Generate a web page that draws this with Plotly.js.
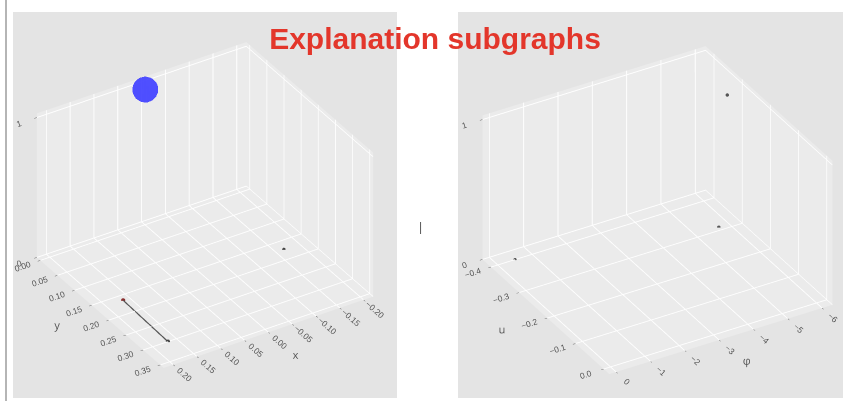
<!DOCTYPE html>
<html>
<head>
<meta charset="utf-8">
<script src="https://cdn.plot.ly/plotly-3.0.1.min.js"></script>
<style>
html,body{margin:0;padding:0;background:#fff;}
#chart{width:843px;height:401px;}
#rule{position:absolute;left:5px;top:0;width:2px;height:401px;background:#b5b5b5;z-index:5;}
</style>
</head>
<body>
<div id="rule"></div>
<div id="chart"></div>
<script>
// ---- data ----
const titleText = "Explanation subgraphs";

// left subgraph
const leftNodeX = [0.0];
const leftNodeY = [0.0];
const leftNodeZ = [0.97];
const leftEdgeX = [0.164, 0.168];
const leftEdgeY = [0.164, 0.30];
const leftEdgeZ = [0.0, 0.0];
const leftDotX = [-0.167];
const leftDotY = [0.173];
const leftDotZ = [0.0];
const leftXTicks = [-0.20, -0.15, -0.10, -0.05, 0.00, 0.05, 0.10, 0.15, 0.20];
const leftYTicks = [0.00, 0.05, 0.10, 0.15, 0.20, 0.25, 0.30, 0.35];
const leftZTicks = [0, 1];

// right subgraph
const rightDotX = [-0.5, -5.7, -5.7];
const rightDotY = [-0.40, -0.31, -0.28];
const rightDotZ = [0.0, 0.0, 1.0];
const rightXTicks = [-6, -5, -4, -3, -2, -1, 0];
const rightYTicks = [-0.4, -0.3, -0.2, -0.1, 0.0];
const rightZTicks = [0, 1];

const fmt2 = v => v.toFixed(2).replace('-', '\u2212');
const fmt1 = v => v.toFixed(1).replace('-', '\u2212');
const fmt0 = v => String(v).replace('-', '\u2212');

function ax(ticks, fmt, range, title) {
  return {
    range: range,
    tickvals: ticks,
    ticktext: ticks.map(fmt),
    tickfont: {family: 'Liberation Sans, Arial, sans-serif', size: 10, color: '#555'},
    title: {text: title, font: {size: 11, color: '#555'}},
    showbackground: true,
    backgroundcolor: '#ebebeb',
    gridcolor: '#ffffff',
    gridwidth: 2,
    zeroline: false,
    showline: false,
    showspikes: false,
    ticks: 'outside',
    ticklen: 3,
    tickcolor: '#666'
  };
}

const traces = [
  {type: 'scatter3d', mode: 'markers', x: leftNodeX, y: leftNodeY, z: leftNodeZ,
   marker: {size: 15, color: 'rgba(55,55,240,0.9)', line: {width: 0}}, scene: 'scene', hoverinfo: 'skip'},
  {type: 'scatter3d', mode: 'lines+markers', x: leftEdgeX, y: leftEdgeY, z: leftEdgeZ,
   line: {color: '#555', width: 2.5}, marker: {size: 2.5, color: ['#8a3030', '#444']},
   scene: 'scene', hoverinfo: 'skip'},
  {type: 'scatter3d', mode: 'markers', x: leftDotX, y: leftDotY, z: leftDotZ,
   marker: {size: 2, color: '#444'}, scene: 'scene', hoverinfo: 'skip'},
  {type: 'scatter3d', mode: 'markers', x: rightDotX, y: rightDotY, z: rightDotZ,
   marker: {size: 2, color: '#555'}, scene: 'scene2', hoverinfo: 'skip'}
];

function cam(cx, cy, cz) {
  return {eye: {x: 0.667, y: 1.067, z: 0.817}, center: {x: cx, y: cy, z: cz}, up: {x: 0, y: 0, z: 1},
          projection: {type: 'orthographic'}};
}

const layout = {
  width: 843, height: 401,
  margin: {l: 0, r: 0, t: 0, b: 0},
  paper_bgcolor: '#ffffff',
  showlegend: false,
  title: {text: titleText, x: 0.516, xanchor: 'center', y: 0.905, yanchor: 'middle',
          font: {family: 'Liberation Sans, Arial, sans-serif', size: 30, color: '#e3362b', weight: 'bold'}},
  scene: {
    domain: {x: [13/843, 397/843], y: [3/401, 389/401]},
    bgcolor: '#e4e4e4',
    xaxis: ax(leftXTicks, fmt2, [-0.22, 0.22], 'x'),
    yaxis: ax(leftYTicks, fmt2, [-0.01, 0.36], 'y'),
    zaxis: ax(leftZTicks, fmt0, [0, 1.03], ''),
    aspectmode: 'manual', aspectratio: {x: 1.28, y: 1.24, z: 0.89},
    camera: cam(0, 0, 0)
  },
  scene2: {
    domain: {x: [458/843, 1], y: [3/401, 389/401]},
    bgcolor: '#e4e4e4',
    xaxis: ax(rightXTicks, fmt0, [-6.3, 0.2], 'φ'),
    yaxis: ax(rightYTicks, fmt1, [-0.43, 0.02], 'u'),
    zaxis: ax(rightZTicks, fmt0, [0, 1.03], ''),
    aspectmode: 'manual', aspectratio: {x: 1.34, y: 1.30, z: 0.88},
    camera: cam(0.03, -0.02, 0.03)
  },
  annotations: [
    {text: '|', x: 420/843, y: 1 - 227/401, xref: 'paper', yref: 'paper', showarrow: false,
     font: {family: 'Liberation Sans, Arial, sans-serif', size: 12, color: '#555'}}
  ]
};

Plotly.newPlot('chart', traces, layout, {displayModeBar: false});
</script>
</body>
</html>
